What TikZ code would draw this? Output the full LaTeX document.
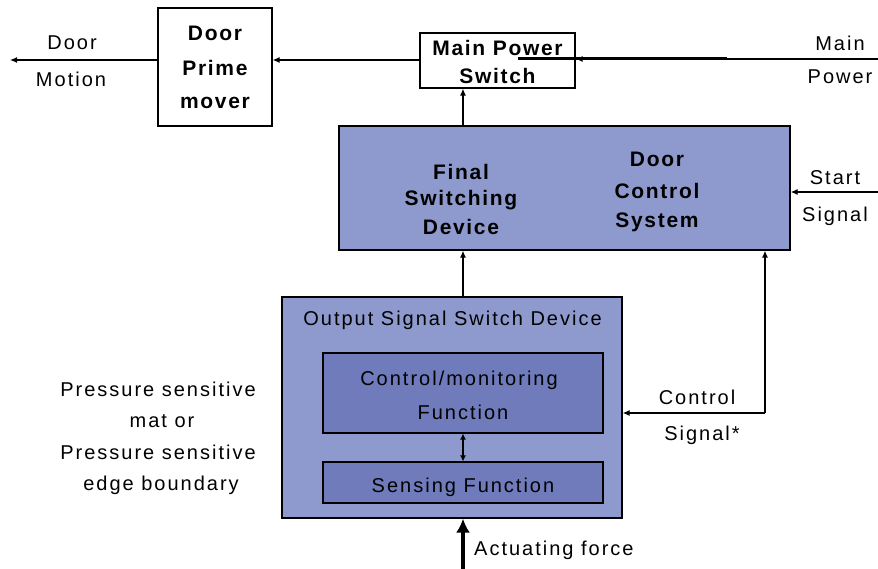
\documentclass[tikz,border=0pt]{standalone}
\usepackage{fontspec}
\setmainfont{Liberation Sans}
\usetikzlibrary{arrows.meta}
\definecolor{panel}{HTML}{8E9ACD}
\definecolor{inner}{HTML}{6F7BBB}
\newcommand{\lbl}{\fontsize{20}{34}\selectfont\addfontfeatures{LetterSpace=10}}
\newcommand{\blbl}{\fontsize{21}{34}\selectfont\bfseries\addfontfeatures{LetterSpace=8}}
\begin{document}
\begin{tikzpicture}[x=1pt,y=-1pt,
  box/.style={draw=black,line width=1.3pt,inner sep=0pt},
  whitebox/.style={box,fill=white},
  bluebox/.style={box,fill=panel},
  darkbox/.style={box,fill=inner,line width=1.1pt},
  txt/.style={font=\lbl,align=center,inner sep=0pt,text depth=0pt},
  btxt/.style={font=\blbl,align=center,inner sep=0pt},
  arr/.style={line width=1.2pt,-{Latex[length=7pt,width=6pt]}},
  dblarr/.style={line width=1.2pt,{Latex[length=6pt,width=6pt]}-{Latex[length=6pt,width=6pt]}},
  bigarr/.style={line width=4pt,-{Latex[length=14pt,width=14pt]}}]
\useasboundingbox (0,0) rectangle (878,569);

% boxes
\node[whitebox,minimum width=114pt,minimum height=118pt] (prime) at (215,67) {};
\node[whitebox,minimum width=155pt,minimum height=55pt] (mps) at (497.5,60.5) {};
\node[bluebox,minimum width=451pt,minimum height=124pt] (dcs) at (564.5,188) {};
\node[bluebox,minimum width=340pt,minimum height=221pt] (oss) at (452,407.5) {};
\node[darkbox,minimum width=280pt,minimum height=80pt] (ctl) at (463,393) {};
\node[darkbox,minimum width=280pt,minimum height=41pt] (sens) at (463,482.5) {};

% box texts
\node[btxt] at (215,33) {Door};
\node[btxt] at (215,68) {Prime};
\node[btxt] at (215,103) {mover};
\node[btxt] at (497.5,48) {Main Power};
\node[btxt] at (497.5,76) {Switch};
\node[btxt] at (461,172) {Final};
\node[btxt] at (461,200) {Switching};
\node[btxt] at (461,227) {Device};
\node[btxt] at (657,159) {Door};
\node[btxt] at (657,191) {Control};
\node[btxt] at (657,222) {System};
\node[txt] at (452.5,318) {Output Signal Switch Device};
\node[txt] at (459,378) {Control/monitoring};
\node[txt] at (463,412) {Function};
\node[txt] at (463,485) {Sensing Function};

% free labels
\node[txt] at (72,43) {Door};
\node[txt] at (71,79) {Motion};
\node[txt] at (840,43) {Main};
\node[txt] at (840,77) {Power};
\node[txt] at (835,178) {Start};
\node[txt] at (835,214) {Signal};
\node[txt] at (697,397) {Control};
\node[txt] at (702,433) {Signal*};
\node[txt] at (158,389) {Pressure sensitive};
\node[txt] at (162,421) {mat or};
\node[txt] at (158,452) {Pressure sensitive};
\node[txt] at (161,483) {edge boundary};
\node[txt,anchor=west] (actlbl) at (474,548) {Actuating force};

% free ends of connectors
\coordinate (motionEnd) at (10,60);
\coordinate (powerIn) at (878,59);
\coordinate (startIn) at (878,192);
\coordinate (ctlCorner) at (765,413);
\coordinate (forceIn) at (463,569);
\coordinate (feedA) at (518,59);
\coordinate (feedB) at (727,59);

% connectors
\draw[arr] (prime.west |- motionEnd) -- (motionEnd);
\draw[arr] (mps.west |- motionEnd) -- (prime.east |- motionEnd);
\draw[arr] (powerIn) -- (mps.east |- powerIn);
\draw[line width=3pt] (feedA) -- (feedB);
\draw[arr] (dcs.north -| 463,0) -- (mps.south -| 463,0);
\draw[arr] (startIn) -- (dcs.east |- startIn);
\draw[arr] (oss.north -| 463,0) -- (dcs.south -| 463,0);
\draw[arr] (ctlCorner) -- (oss.east |- ctlCorner);
\draw[arr] (ctlCorner) -- (dcs.south -| ctlCorner);
\draw[dblarr] (ctl.south) -- (sens.north);
\draw[bigarr] (forceIn) -- (oss.south -| forceIn);
\end{tikzpicture}
\end{document}
